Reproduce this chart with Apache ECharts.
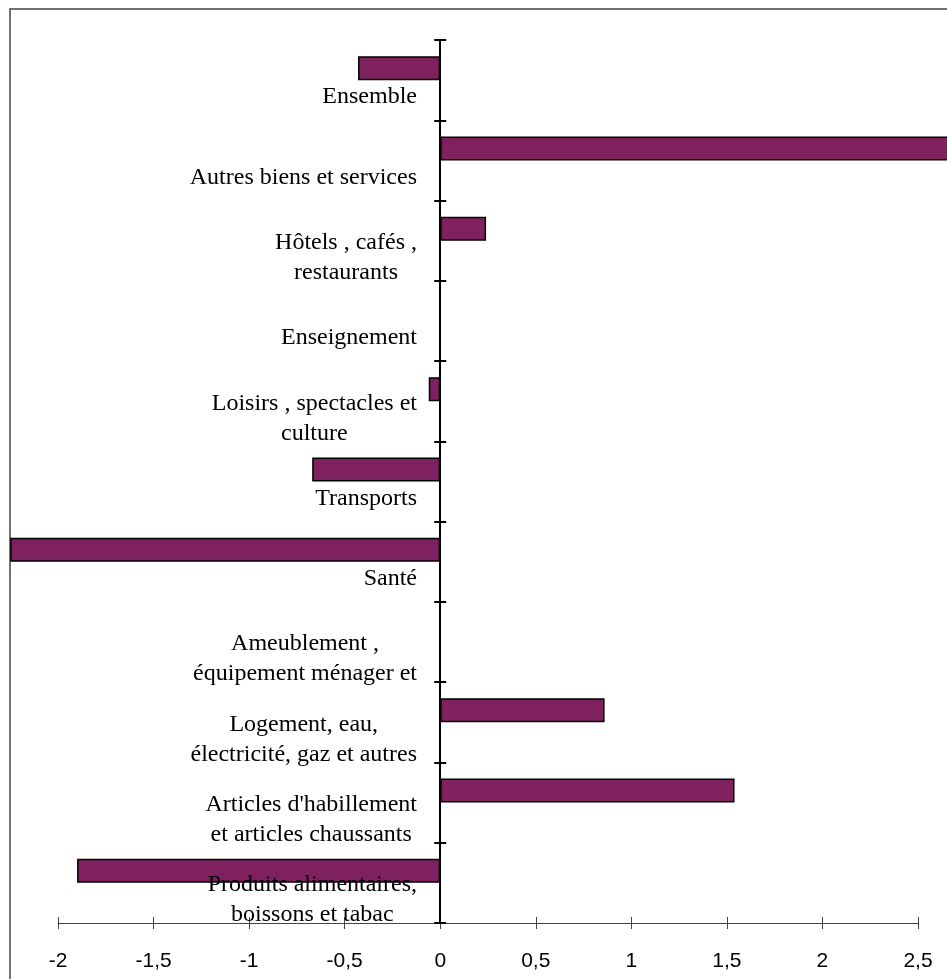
<!DOCTYPE html>
<html>
<head>
<meta charset="utf-8">
<script src="https://cdn.jsdelivr.net/npm/echarts@6/dist/echarts.min.js"></script>
<style>
html,body{margin:0;padding:0;background:#fff;}
#chart{width:947px;height:979px;}
</style>
</head>
<body>
<div id="chart"></div>
<script>
// Categories listed bottom to top
const categories = [
  "Produits alimentaires,\nboissons et tabac",
  "Articles d'habillement\net articles chaussants",
  "Logement, eau,\nélectricité, gaz et autres",
  "Ameublement ,\néquipement ménager et",
  "Santé",
  "Transports",
  "Loisirs , spectacles et\nculture",
  "Enseignement",
  "Hôtels , cafés ,\nrestaurants",
  "Autres biens et services",
  "Ensemble"
];
const values = [-1.9, 1.54, 0.86, 0, -2.25, -0.67, -0.06, 0, 0.24, 2.8, -0.43];
const emptySeries = categories.map(() => null);
const xTicks = { min: -2, max: 2.5, interval: 0.5 };

const chart = echarts.init(document.getElementById('chart'), null, { renderer: 'canvas' });

const yLabel = {
  interval: 0,
  margin: -359,
  color: '#000',
  fontFamily: 'Liberation Serif',
  fontSize: 24,
  lineHeight: 30,
  padding: [34, 0, 0, 0],
  formatter: function (v) {
    return v.split('\n').map(l => '{c|' + l + '}').join('\n');
  },
  rich: {
    c: { align: 'center', fontFamily: 'Liberation Serif', fontSize: 24, lineHeight: 30, color: '#000' }
  }
};

chart.setOption({
  animation: false,
  backgroundColor: '#fff',
  grid: { left: 58, right: 29, top: 40, bottom: 56, containLabel: false, outerBoundsMode: 'none' },
  graphic: [{
    type: 'rect', z: -10, silent: true,
    shape: { x: 10, y: 9, width: 960, height: 1000 },
    style: { fill: null, stroke: '#444', lineWidth: 1.5 }
  }],
  xAxis: [{
    type: 'value', position: 'bottom',
    min: xTicks.min, max: xTicks.max, interval: xTicks.interval,
    splitLine: { show: false },
    axisLine: { show: true, lineStyle: { color: '#444', width: 1 } },
    axisTick: { show: true, length: 6, lineStyle: { color: '#444', width: 1 } },
    axisLabel: {
      margin: 28, color: '#000', fontFamily: 'Liberation Sans', fontSize: 21,
      formatter: v => String(v).replace('.', ',')
    }
  }, {
    type: 'value', position: 'bottom',
    min: xTicks.min, max: xTicks.max, interval: xTicks.interval,
    splitLine: { show: false },
    axisLine: { show: false },
    axisTick: { show: true, inside: true, length: 6, lineStyle: { color: '#444', width: 1 } },
    axisLabel: { show: false }
  }],
  yAxis: [{
    type: 'category', position: 'left', data: categories, z: 5,
    axisLine: { show: true, onZero: true, lineStyle: { color: '#000', width: 2 } },
    axisTick: { show: true, length: 6, lineStyle: { color: '#000', width: 2 } },
    axisLabel: yLabel,
    splitLine: { show: false }
  }, {
    type: 'category', position: 'left', data: categories, z: 5,
    axisLine: { show: true, onZero: true, lineStyle: { color: '#000', width: 2, opacity: 0 } },
    axisTick: { show: true, inside: true, length: 6, lineStyle: { color: '#000', width: 2 } },
    axisLabel: { show: false },
    splitLine: { show: false }
  }],
  series: [{
    type: 'bar', xAxisIndex: 0, yAxisIndex: 0,
    data: values, clip: false,
    barWidth: 24, barGap: '0%',
    itemStyle: { color: '#7F215E', borderColor: '#000', borderWidth: 1.5 }
  }, {
    type: 'bar', xAxisIndex: 0, yAxisIndex: 0,
    data: emptySeries, clip: false,
    barWidth: 24, barGap: '0%'
  }]
});
</script>
</body>
</html>
